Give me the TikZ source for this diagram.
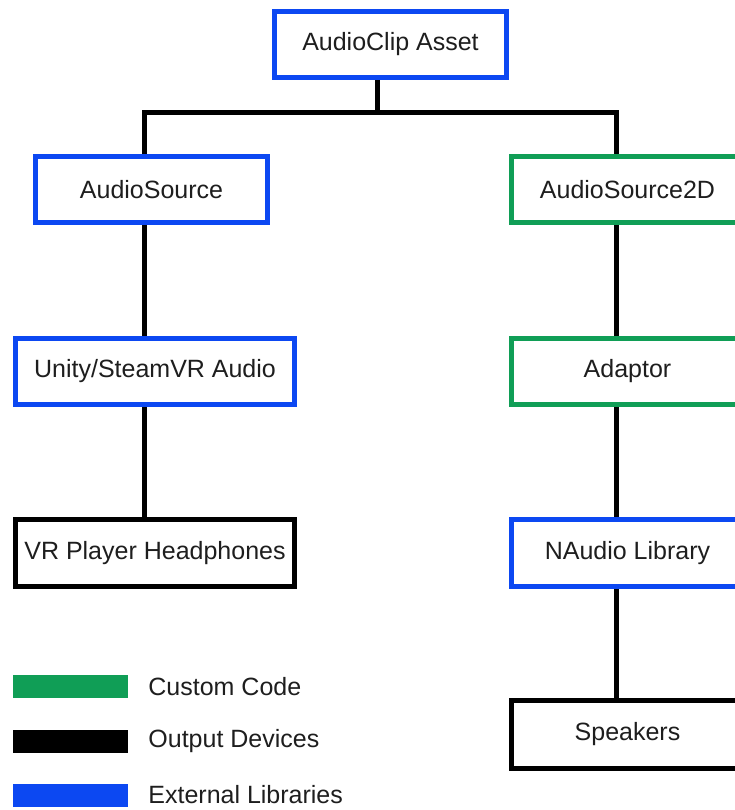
\documentclass[tikz,border=0pt]{standalone}
\usepackage{fontspec}
\setmainfont{Liberation Sans}
\usetikzlibrary{positioning}
\definecolor{libblue}{RGB}{12,72,242}
\definecolor{codegreen}{RGB}{16,158,86}
\definecolor{txtgray}{RGB}{30,30,30}
\tikzset{
  box/.style={draw, line width=5pt, fill=white, minimum width=232pt,
              minimum height=66pt, inner sep=0pt, text=txtgray,
              font=\fontsize{25}{30}\selectfont},
  extbox/.style={box, draw=libblue},
  codebox/.style={box, draw=codegreen},
  devbox/.style={box, draw=black},
  wire/.style={line width=5pt},
  swatch/.style={minimum width=115pt, minimum height=23pt, inner sep=0pt},
  keytext/.style={inner sep=0pt, text=txtgray, font=\fontsize{25}{30}\selectfont}
}
\begin{document}
\begin{tikzpicture}[x=1pt, y=-1pt]
  \useasboundingbox (0,0) rectangle (735,810);

  % left branch: Unity audio path
  \node[extbox] (clip) at (390.5,44.5) {AudioClip Asset};
  \node[extbox] (src) at (151.5,189.5) {AudioSource};
  \node[extbox, minimum width=279pt] (unity) at (155,371.5) {Unity/SteamVR Audio};
  \node[devbox, minimum width=279pt, minimum height=67pt] (vr) at (155,553) {VR Player Headphones};
  % right branch: custom 2D path
  \node[codebox] (src2d) at (627.5,189.5) {AudioSource2D};
  \node[codebox] (adapt) at (627.5,371.5) {Adaptor};
  \node[extbox, minimum height=67pt] (naudio) at (627.5,553) {NAudio Library};
  \node[devbox, minimum height=68pt] (spk) at (627.5,734.5) {Speakers};

  % junction points of the tree
  \coordinate (jt) at (377,113);
  \coordinate (jl) at (144,113);
  \coordinate (jr) at (616,113);

  \draw[wire] (clip.south -| jt) -- (jt);
  \draw[wire] (src.north -| jl) |- (jr) -- (src2d.north -| jr);
  \draw[wire] (src.south -| jl) -- (unity.north -| jl);
  \draw[wire] (unity.south -| jl) -- (vr.north -| jl);
  \draw[wire] (src2d.south -| jr) -- (adapt.north -| jr);
  \draw[wire] (adapt.south -| jr) -- (naudio.north -| jr);
  \draw[wire] (naudio.south -| jr) -- (spk.north -| jr);

  % legend
  \node[swatch, fill=codegreen] (keycode) at (70.5,686.5) {};
  \node[swatch, fill=black] (keydev) at (70.5,741) {};
  \node[swatch, fill=libblue] (keylib) at (70.5,795) {};
  \node[keytext, right=20pt of keycode] (txtcode) {Custom Code};
  \node[keytext, right=20pt of keydev] (txtdev) {Output Devices};
  \node[keytext, right=20pt of keylib] (txtlib) {External Libraries};
\end{tikzpicture}
\end{document}
